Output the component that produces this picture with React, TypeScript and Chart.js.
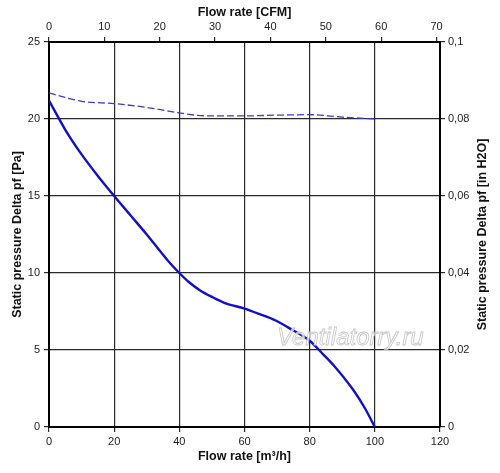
import React, { useEffect, useRef } from "react";
import { Chart, registerables } from "chart.js";

Chart.register(...registerables);

const FLOW_SOLID = [0, 5, 10, 15, 20, 25, 30, 36.5, 40, 43, 46.4, 50, 54, 60, 65, 69.4, 74, 80, 84, 87.8, 93.4, 97, 100];
const PRESSURE_SOLID = [21.2, 19.3, 17.7, 16.3, 15, 13.75, 12.5, 10.8, 10, 9.4, 8.87, 8.45, 8.05, 7.69, 7.3, 6.93, 6.39, 5.6, 4.75, 3.9, 2.4, 1.2, 0];

const FLOW_DASHED = [0, 5, 10, 20, 30, 40, 45, 50, 60, 70, 80, 90, 100];
const PRESSURE_DASHED = [21.7, 21.4, 21.15, 21.0, 20.75, 20.4, 20.25, 20.2, 20.2, 20.25, 20.28, 20.12, 20.0];

const X_TICKS = [0, 20, 40, 60, 80, 100, 120];
const Y_TICKS = [0, 5, 10, 15, 20, 25];
const CFM_TICKS = [0, 10, 20, 30, 40, 50, 60, 70];
const INH2O_TICKS = [0, 0.02, 0.04, 0.06, 0.08, 0.1];

const M3H_TO_CFM = 0.58858;

const X_TITLE = "Flow rate [m³/h]";
const X_TOP_TITLE = "Flow rate [CFM]";
const Y_TITLE = "Static pressure Delta pf [Pa]";
const Y_RIGHT_TITLE = "Static pressure Delta pf [in H2O]";
const WATERMARK = "Ventilatorry.ru";

const FONT = '"Liberation Sans", Arial, sans-serif';

export default function App() {
  const ref = useRef<HTMLCanvasElement | null>(null);

  useEffect(() => {
    if (!ref.current) return;

    const rightTitlePlugin = {
      id: "rightTitle",
      afterDraw(chart: any) {
        const { ctx, chartArea } = chart;
        ctx.save();
        ctx.translate(483, (chartArea.top + chartArea.bottom) / 2);
        ctx.rotate(-Math.PI / 2);
        ctx.font = `bold 12.5px ${FONT}`;
        ctx.fillStyle = "#111";
        ctx.textAlign = "center";
        ctx.textBaseline = "middle";
        ctx.fillText(Y_RIGHT_TITLE, 0, 0);
        ctx.restore();
      },
    };

    const watermarkPlugin = {
      id: "watermark",
      afterDatasetsDraw(chart: any) {
        const { ctx } = chart;
        ctx.save();
        ctx.font = `italic 24px ${FONT}`;
        ctx.textAlign = "left";
        ctx.textBaseline = "alphabetic";
        ctx.fillStyle = "rgba(255,255,255,0.75)";
        ctx.fillText(WATERMARK, 277, 345);
        ctx.strokeStyle = "rgba(190,190,190,0.9)";
        ctx.lineWidth = 0.8;
        ctx.strokeText(WATERMARK, 277, 345);
        ctx.restore();
      },
    };

    const tickFont = { family: FONT, size: 11 };
    const titleFont = { family: FONT, size: 12.5, weight: "bold" as const };

    const chart = new Chart(ref.current, {
      type: "line",
      data: {
        datasets: [
          {
            label: "dashed",
            data: FLOW_DASHED.map((x, i) => ({ x, y: PRESSURE_DASHED[i] })),
            borderColor: "#3a3ad8",
            borderWidth: 1.3,
            borderDash: [7, 3],
            pointRadius: 0,
            cubicInterpolationMode: "monotone",
            xAxisID: "x",
            yAxisID: "y",
          },
          {
            label: "solid",
            data: FLOW_SOLID.map((x, i) => ({ x, y: PRESSURE_SOLID[i] })),
            borderColor: "#1010c8",
            borderWidth: 2.4,
            pointRadius: 0,
            cubicInterpolationMode: "monotone",
            xAxisID: "x",
            yAxisID: "y",
          },
        ],
      },
      options: {
        responsive: false,
        animation: false,
        devicePixelRatio: 1,
        layout: { padding: 0 },
        plugins: {
          legend: { display: false },
          tooltip: { enabled: false },
        },
        scales: {
          x: {
            type: "linear",
            position: "bottom",
            min: 0,
            max: 120,
            afterBuildTicks: (s: any) => {
              s.ticks = X_TICKS.map((v) => ({ value: v }));
            },
            afterFit: (s: any) => {
              s.height = 46;
            },
            grid: { color: "#2a2a2a", lineWidth: 1.2, tickLength: 5, drawOnChartArea: true },
            border: { display: true, color: "#000", width: 2 },
            ticks: { font: tickFont, color: "#222", padding: 3, maxRotation: 0 },
            title: { display: true, text: X_TITLE, font: titleFont, color: "#111", padding: { top: 0, bottom: 9 } },
          },
          xTop: {
            type: "linear",
            position: "top",
            min: 0,
            max: 120 * M3H_TO_CFM,
            afterBuildTicks: (s: any) => {
              s.ticks = CFM_TICKS.map((v) => ({ value: v }));
            },
            afterFit: (s: any) => {
              s.height = 42;
            },
            grid: { color: "#2a2a2a", lineWidth: 1.2, tickLength: 5, drawOnChartArea: false },
            border: { display: true, color: "#000", width: 2 },
            ticks: { font: tickFont, color: "#222", padding: 3, maxRotation: 0 },
            title: { display: true, text: X_TOP_TITLE, font: titleFont, color: "#111", padding: { top: 5, bottom: 0 } },
          },
          y: {
            type: "linear",
            position: "left",
            min: 0,
            max: 25,
            afterBuildTicks: (s: any) => {
              s.ticks = Y_TICKS.map((v) => ({ value: v }));
            },
            afterFit: (s: any) => {
              s.width = 49;
            },
            grid: { color: "#2a2a2a", lineWidth: 1.2, tickLength: 5, drawOnChartArea: true },
            border: { display: true, color: "#000", width: 2 },
            ticks: { font: tickFont, color: "#222", padding: 4 },
            title: { display: true, text: Y_TITLE, font: titleFont, color: "#111", padding: { top: 10, bottom: 0 } },
          },
          y2: {
            type: "linear",
            position: "right",
            min: 0,
            max: 0.1,
            afterBuildTicks: (s: any) => {
              s.ticks = INH2O_TICKS.map((v) => ({ value: v }));
            },
            afterFit: (s: any) => {
              s.width = 60;
            },
            grid: { color: "#2a2a2a", lineWidth: 1.2, tickLength: 5, drawOnChartArea: false },
            border: { display: true, color: "#000", width: 2 },
            ticks: {
              font: tickFont,
              color: "#222",
              padding: 3,
              callback: (v: any) => String(parseFloat(Number(v).toFixed(3))).replace(".", ","),
            },
            title: { display: false },
          },
        },
      },
      plugins: [watermarkPlugin, rightTitlePlugin],
    });

    return () => chart.destroy();
  }, []);

  return (
    <div style={{ position: "absolute", left: 0, top: 0, width: 500, height: 473, background: "#fff" }}>
      <canvas ref={ref} width={500} height={473} style={{ display: "block" }} />
    </div>
  );
}
